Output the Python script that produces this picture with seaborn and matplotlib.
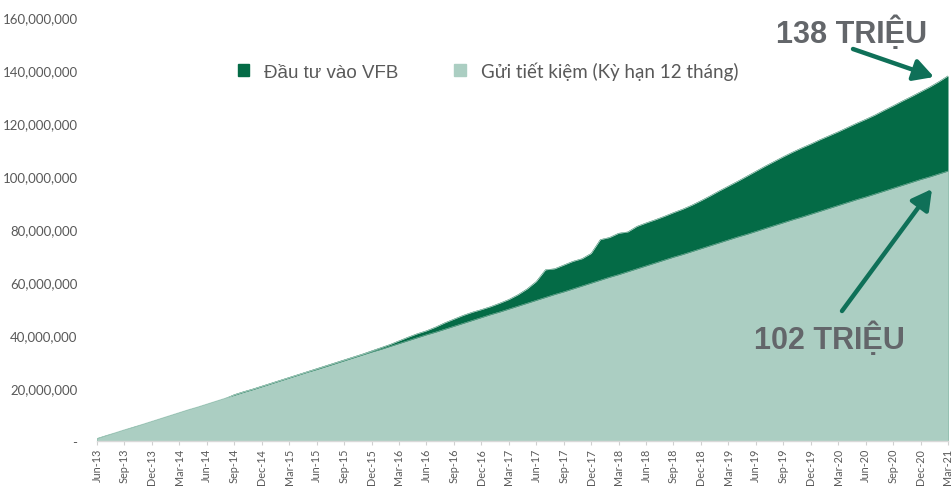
import matplotlib
matplotlib.use("Agg")
import matplotlib.pyplot as plt
import matplotlib.ticker as mticker
from matplotlib.patches import Patch, FancyArrowPatch
import seaborn as sns
import pandas as pd
import numpy as np

# ---- data (millions VND), monthly Jun-13 .. Mar-21 ----
months = pd.date_range("2013-06-01", "2021-03-01", freq="MS")

savings_m = [1.0, 2.1, 3.2, 4.3, 5.3, 6.4, 7.5, 8.6, 9.7, 10.8, 11.9, 12.9, 14.0, 15.1, 16.2,
             17.3, 18.4, 19.4, 20.5, 21.6, 22.7, 23.8, 24.9, 26.0, 27.0, 28.1, 29.2, 30.3, 31.4,
             32.5, 33.6, 34.6, 35.7, 36.8, 37.9, 39.0, 40.1, 41.1, 42.2, 43.3, 44.4, 45.5, 46.6,
             47.7, 48.7, 49.8, 50.9, 52.0, 53.1, 54.2, 55.3, 56.3, 57.4, 58.5, 59.6, 60.7, 61.8,
             62.8, 63.9, 65.0, 66.1, 67.2, 68.3, 69.4, 70.4, 71.5, 72.6, 73.7, 74.8, 75.9, 77.0,
             78.0, 79.1, 80.2, 81.3, 82.4, 83.5, 84.5, 85.6, 86.7, 87.8, 88.9, 90.0, 91.1, 92.1,
             93.2, 94.3, 95.4, 96.5, 97.6, 98.7, 99.7, 100.8, 101.9]

vfb_m = [0.9, 2.0, 3.0, 4.1, 5.2, 6.2, 7.3, 8.4, 9.5, 10.6, 11.7, 12.7, 13.8, 14.9, 16.0,
         17.5, 18.6, 19.6, 20.7, 21.8, 22.9, 24.0, 25.1, 26.2, 27.3, 28.4, 29.5, 30.6, 31.7,
         32.8, 34.0, 35.2, 36.4, 37.8, 39.2, 40.5, 41.6, 43.0, 44.6, 46.0, 47.4, 48.6, 49.6,
         50.7, 52.0, 53.4, 55.2, 57.4, 60.2, 64.6, 65.0, 66.4, 67.8, 68.8, 70.8, 76.0, 76.8,
         78.4, 78.9, 81.0, 82.3, 83.5, 84.8, 86.2, 87.5, 89.0, 90.7, 92.5, 94.4, 96.2, 98.0,
         99.9, 101.8, 103.7, 105.5, 107.3, 109.0, 110.6, 112.1, 113.7, 115.2, 116.7, 118.3,
         119.9, 121.4, 123.0, 124.8, 126.5, 128.3, 130.0, 131.8, 133.6, 135.6, 137.8]

series_names = ["Đầu tư vào VFB", "Gửi tiết kiệm (Kỳ hạn 12 tháng)"]
labels_big = ["138 TRIỆU", "102 TRIỆU"]
xtick_labels = [d.strftime("%b-%y") for d in months[::3]]

DARK = "#046B46"
LIGHT = "#ABCEC2"
ARROW = "#0F7058"
GREY = "#63666A"

df = pd.DataFrame({
    "idx": np.arange(len(months)),
    "vfb": np.array(vfb_m) * 1e6,
    "sav": np.array(savings_m) * 1e6,
})

sns.set_theme(style="white")
plt.rcParams["font.family"] = ["Lato", "DejaVu Sans"]

fig = plt.figure(figsize=(9.53, 4.89), dpi=100)
ax = fig.add_axes([97 / 953, 1 - 442 / 489, (948 - 97) / 953, (442 - 18) / 489])

sns.lineplot(data=df, x="idx", y="vfb", ax=ax, color=DARK, linewidth=0.3)
ax.fill_between(df["idx"], 0, df["vfb"], color=DARK, linewidth=0, zorder=2)
sns.lineplot(data=df, x="idx", y="sav", ax=ax, color=LIGHT, linewidth=0.3)
ax.fill_between(df["idx"], 0, df["sav"], color=LIGHT, linewidth=0, zorder=3)

ax.set_xlim(0, len(months) - 1)
ax.set_ylim(0, 160e6)
ax.set_xlabel("")
ax.set_ylabel("")

ax.yaxis.set_major_locator(mticker.MultipleLocator(20e6))
ax.yaxis.set_major_formatter(mticker.FuncFormatter(lambda v, p: "-" if v == 0 else f"{int(v):,}"))
ax.tick_params(axis="y", length=0, pad=14, labelsize=9.5, labelcolor="#595959")

ax.set_xticks(df["idx"][::3])
ax.set_xticklabels(xtick_labels, rotation=90, fontsize=7.8, color="#595959")
ax.tick_params(axis="x", length=3, width=0.8, color="#D0D0D0", pad=2, bottom=True)

for s in ["left", "right", "top"]:
    ax.spines[s].set_visible(False)
ax.spines["bottom"].set_color("#D9D9D9")
ax.spines["bottom"].set_linewidth(1.0)
ax.spines["bottom"].set_zorder(5)
ax.grid(False)

handles = [Patch(facecolor=DARK, edgecolor=DARK), Patch(facecolor=LIGHT, edgecolor=LIGHT)]
leg = fig.legend(handles, series_names, loc="center", bbox_to_anchor=(0.512, 0.853),
                 ncol=2, frameon=False, fontsize=13.5, handlelength=0.6, handleheight=0.6,
                 handletextpad=0.8, columnspacing=3.0)
leg.get_texts()[0].set_fontfamily(["Liberation Sans", "DejaVu Sans"])
for t in leg.get_texts():
    t.set_color("#595959")

# big annotations
fig.text(852 / 953, 1 - 33 / 489, labels_big[0], ha="center", va="center", fontsize=22,
         fontweight="bold", color=GREY, family=["Liberation Sans", "DejaVu Sans"])
fig.text(829 / 953, 1 - 339 / 489, labels_big[1], ha="center", va="center", fontsize=22,
         fontweight="bold", color=GREY, family=["Liberation Sans", "DejaVu Sans"])

arrow_kw = dict(arrowstyle="-|>,head_length=1.0,head_width=0.55", color=ARROW, lw=3.2,
                shrinkA=0, shrinkB=0)
fig.add_artist(FancyArrowPatch(
    (853 / 953, 1 - 50 / 489), (934 / 953, 1 - 78 / 489), transform=fig.transFigure,
    mutation_scale=12, zorder=10, **arrow_kw))
fig.add_artist(FancyArrowPatch(
    (842 / 953, 1 - 312 / 489), (932 / 953, 1 - 190 / 489), transform=fig.transFigure,
    mutation_scale=12, zorder=10, **arrow_kw))

fig.savefig("out.png", dpi=100)
